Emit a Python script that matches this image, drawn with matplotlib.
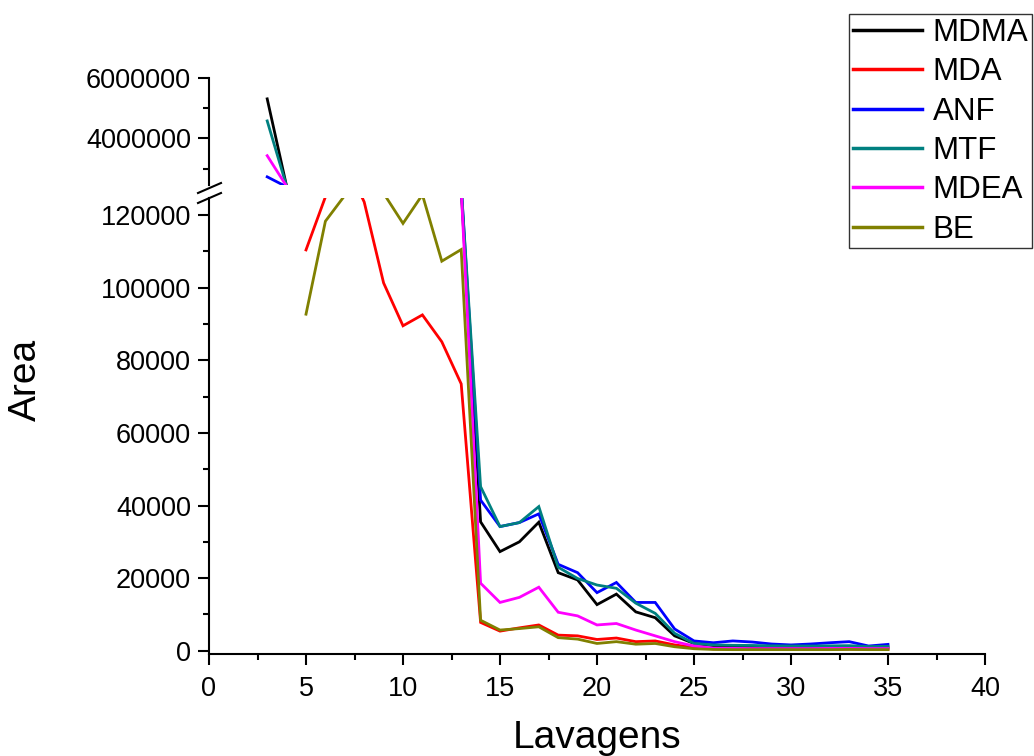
import numpy as np
import matplotlib
matplotlib.use("Agg")
from matplotlib import pyplot as plt
from matplotlib.lines import Line2D
from matplotlib.ticker import MultipleLocator, FixedLocator

plt.rcParams['font.family'] = ['Liberation Sans', 'DejaVu Sans']

# lavagens 3..35 ; NaN where a series has no point
lavagens = np.arange(3, 36)
nan = np.nan

MDMA = [5310000, 2420000, 2100000, 1850000, 1700000, 1500000, 1250000, 1100000, 900000, 600000, 127000,
        35500, 27300, 30000, 35400, 21500, 19500, 12700, 15600, 10700, 9100, 4100, 2000,
        1400, 1100, 1000, 950, 900, 900, 950, 1000, 900, 950]
MDA = [nan, nan, 110400, 125000, 135000, 123600, 101300, 89500, 92500, 85100, 73500,
       7800, 5400, 6300, 7100, 4300, 4100, 3100, 3500, 2500, 2700, 1600, 900,
       500, 450, 450, 400, 400, 400, 450, 450, 400, 400]
ANF = [2730000, 2400000, 2000000, 1800000, 1600000, 1400000, 1200000, 1000000, 800000, 500000, 128000,
       41500, 34200, 35300, 37700, 23800, 21500, 16000, 18800, 13300, 13300, 6000, 2700,
       2200, 2700, 2400, 1850, 1600, 1850, 2200, 2500, 1300, 1750]
MTF = [4580000, 2420000, 2150000, 1900000, 1750000, 1550000, 1300000, 1150000, 950000, 650000, 128000,
       45200, 34200, 35300, 39700, 23000, 19900, 18100, 17200, 13100, 10300, 4800, 2000,
       1600, 1500, 1450, 1350, 1300, 1300, 1350, 1400, 1150, 1200]
MDEA = [3430000, 2420000, 1900000, 1700000, 1500000, 1300000, 1100000, 900000, 700000, 400000, 127000,
        18600, 13300, 14700, 17500, 10600, 9600, 7100, 7500, 5700, 4100, 2500, 1300,
        700, 650, 600, 600, 600, 600, 650, 650, 600, 600]
BE = [nan, nan, 92700, 118300, 125400, 128000, 126000, 117700, 125600, 107300, 110500,
      8400, 5700, 6100, 6600, 3600, 3200, 2000, 2500, 1800, 2000, 1100, 550,
      350, 300, 300, 300, 300, 300, 300, 350, 300, 300]

names = ["MDMA", "MDA", "ANF", "MTF", "MDEA", "BE"]
series = [MDMA, MDA, ANF, MTF, MDEA, BE]
colors = ["#000000", "#FF0000", "#0000FF", "#008080", "#FF00FF", "#808000"]

W, H = 1034, 756
fig = plt.figure(figsize=(W / 100, H / 100), dpi=100)

def fx(px):
    return px / W

def fy(py):
    return 1 - py / H

left, right = fx(209), fx(985)
ax_top = fig.add_axes([left, fy(185), right - left, fy(78) - fy(185)])
ax_bot = fig.add_axes([left, fy(654), right - left, fy(198) - fy(654)])

for ax in (ax_top, ax_bot):
    for s, c in zip(series, colors):
        ax.plot(lavagens, s, color=c, lw=2.0, solid_joinstyle='miter')
    ax.set_xlim(0, 40)
    ax.spines['top'].set_visible(False)
    ax.spines['right'].set_visible(False)
    ax.spines['left'].set_linewidth(1.5)
    ax.spines['bottom'].set_linewidth(1.5)
    ax.tick_params(which='major', direction='out', length=8, width=1.5, labelsize=19.5, pad=5)
    ax.tick_params(which='minor', direction='out', length=4, width=1.5)

ax_top.set_ylim(2460000, 6000000)
ax_top.spines['bottom'].set_visible(False)
ax_top.tick_params(axis='x', which='both', bottom=False, labelbottom=False)
ax_top.yaxis.set_major_locator(FixedLocator([4000000, 6000000]))
ax_top.yaxis.set_minor_locator(FixedLocator([3000000, 5000000]))
ax_top.set_yticklabels(["4000000", "6000000"])

ax_bot.set_ylim(-900, 124700)
ax_bot.yaxis.set_major_locator(MultipleLocator(20000))
ax_bot.yaxis.set_minor_locator(MultipleLocator(10000))
ax_bot.xaxis.set_major_locator(MultipleLocator(5))
ax_bot.xaxis.set_minor_locator(MultipleLocator(2.5))
ax_bot.set_yticks(np.arange(0, 120001, 20000))
ax_bot.set_yticklabels([str(v) for v in range(0, 120001, 20000)])
ax_bot.tick_params(axis='x', pad=8)

# break marks on the y axis
for y0 in (193, 203):
    fig.add_artist(Line2D([fx(198), fx(221)], [fy(y0), fy(y0 - 10)], color='black', lw=1.5))

fig.text(fx(26), fy(380), "Area", rotation=90, ha='center', va='center', fontsize=28)
fig.text(fx(597), fy(738), "Lavagens", ha='center', va='center', fontsize=28)

handles = [Line2D([], [], color=c, lw=2.5) for c in colors]
leg = fig.legend(handles, names, loc='upper right', bbox_to_anchor=(fx(1032), fy(14)),
                 fontsize=22.5, frameon=True, fancybox=False, edgecolor='black',
                 handlelength=2.2, handletextpad=0.35, labelspacing=0.3,
                 borderpad=0.12, borderaxespad=0)
leg.get_frame().set_linewidth(1.0)

fig.savefig("out.png", dpi=100)
